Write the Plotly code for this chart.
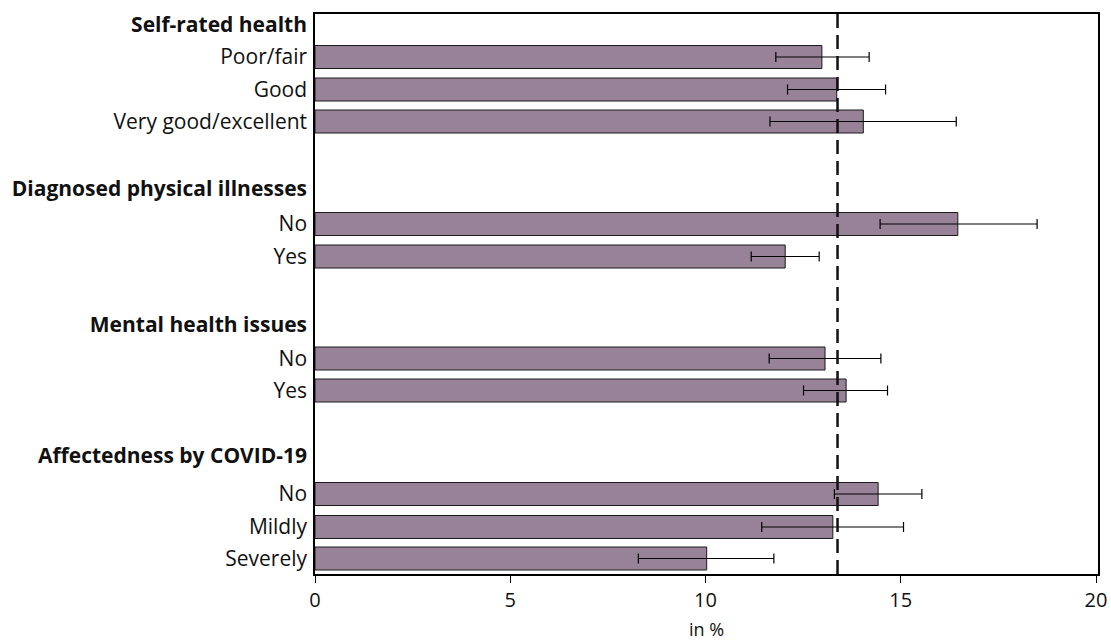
import plotly.graph_objects as go

# ---- data ----
groups = ["Self-rated health", "Diagnosed physical illnesses", "Mental health issues", "Affectedness by COVID-19"]
categories = ["Poor/fair", "Good", "Very good/excellent",
              "No", "Yes",
              "No", "Yes",
              "No", "Mildly", "Severely"]
values = [12.98, 13.36, 14.04, 16.46, 12.04, 13.06, 13.60, 14.42, 13.26, 10.03]
ci_low = [11.80, 12.10, 11.65, 14.47, 11.17, 11.63, 12.51, 13.30, 11.44, 8.28]
ci_high = [14.19, 14.61, 16.42, 18.49, 12.91, 14.49, 14.66, 15.54, 15.07, 11.75]
reference_value = 13.38
x_ticks = [0, 5, 10, 15, 20]

# ---- layout positions (row centres, in pixel-like units from the top) ----
header_pos = [25, 189, 325, 456]
bar_pos = [57, 89.5, 121.5, 224, 256.5, 358.5, 390.5, 494, 527, 558.5]

err_plus = [h - v for h, v in zip(ci_high, values)]
err_minus = [v - l for v, l in zip(values, ci_low)]

fig = go.Figure()
fig.add_trace(go.Bar(
    x=values, y=bar_pos, orientation="h", width=23,
    marker=dict(color="#988298", line=dict(color="#1a1a1a", width=1)),
    error_x=dict(type="data", symmetric=False, array=err_plus, arrayminus=err_minus,
                 color="black", thickness=1.2, width=5),
    hoverinfo="x",
))

fig.add_shape(type="line", xref="x", yref="paper", x0=reference_value, x1=reference_value,
              y0=0, y1=1, line=dict(color="#111111", width=2.5, dash="14px,7px"))

tickvals = header_pos + bar_pos
ticktext = ["<b>%s</b>" % g for g in groups] + categories

fig.update_layout(
    width=1111, height=642,
    margin=dict(l=315, r=13, t=14, b=68),
    paper_bgcolor="white", plot_bgcolor="white",
    showlegend=False,
    font=dict(family="Open Sans", size=21, color="#111111"),
    xaxis=dict(range=[0, 20.05], tickvals=x_ticks, ticks="outside", ticklen=7,
               tickcolor="black", showgrid=False, zeroline=False, automargin=False,
               showline=True, linecolor="black", linewidth=1.5, mirror=True,
               title=dict(text="in %", font=dict(size=18), standoff=12),
               tickfont=dict(size=20)),
    yaxis=dict(range=[574, 14], tickvals=tickvals, ticktext=ticktext, automargin=False,
               ticks="outside", ticklen=2, tickcolor="rgba(0,0,0,0)",
               showgrid=False, zeroline=False,
               showline=True, linecolor="black", linewidth=1.5, mirror=True,
               tickfont=dict(size=21)),
)

fig.write_html("out.html")
